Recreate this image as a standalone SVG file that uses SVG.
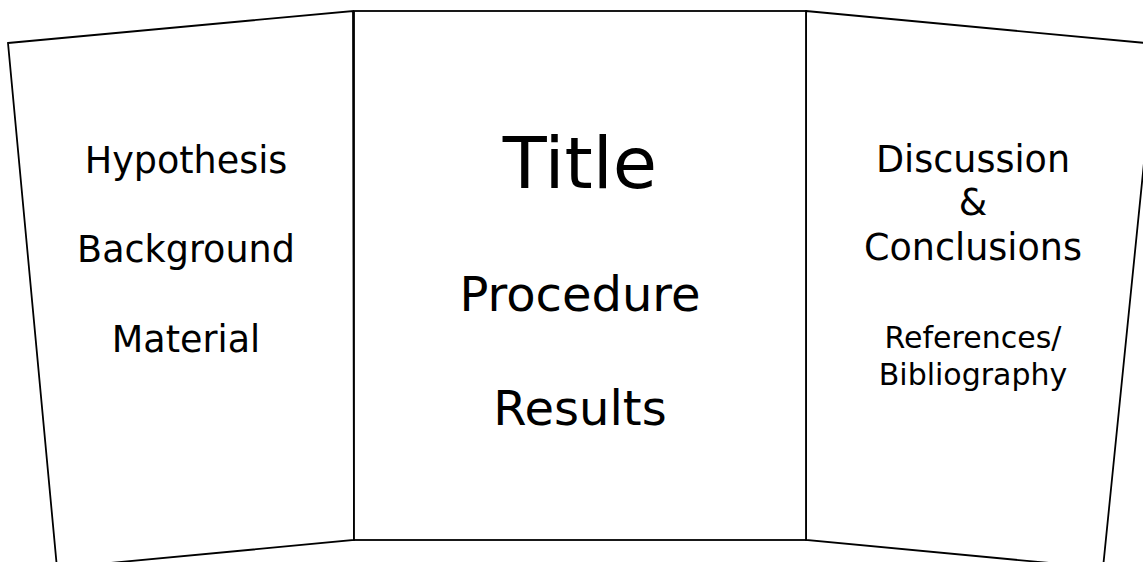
<svg xmlns="http://www.w3.org/2000/svg" width="1143" height="562" viewBox="0 0 1143 562">
<style>
.panel{fill:#fff;stroke:#000;stroke-width:1.8;stroke-linejoin:miter}
text{font-family:"DejaVu Sans","Noto Sans",sans-serif;fill:#000;text-anchor:middle}
.m{font-size:36.5px}
.s{font-size:30px}
.p{font-size:48px}
.t{font-size:72px}
</style>
<rect width="1143" height="562" fill="#fff"/>
<g id="left-panel">
<polygon class="panel" points="8,43 353,11 354,540 57,568"/>
<text class="m" x="186" y="173">Hypothesis</text>
<text class="m" x="186" y="262">Background</text>
<text class="m" x="186" y="352">Material</text>
</g>
<g id="right-panel">
<polygon class="panel" points="806,11 1156,44 1103,568 806,540"/>
<text class="m" x="973" y="172">Discussion</text>
<text class="m" x="973" y="215">&amp;</text>
<text class="m" x="973" y="260">Conclusions</text>
<text class="s" x="973" y="348">References/</text>
<text class="s" x="973" y="385">Bibliography</text>
</g>
<g id="center-panel">
<rect class="panel" x="354" y="11" width="452" height="529"/>
<text class="t" x="580" y="188">Title</text>
<text class="p" x="580" y="311">Procedure</text>
<text class="p" x="580" y="425">Results</text>
</g>
<g id="connectors"></g>
</svg>
